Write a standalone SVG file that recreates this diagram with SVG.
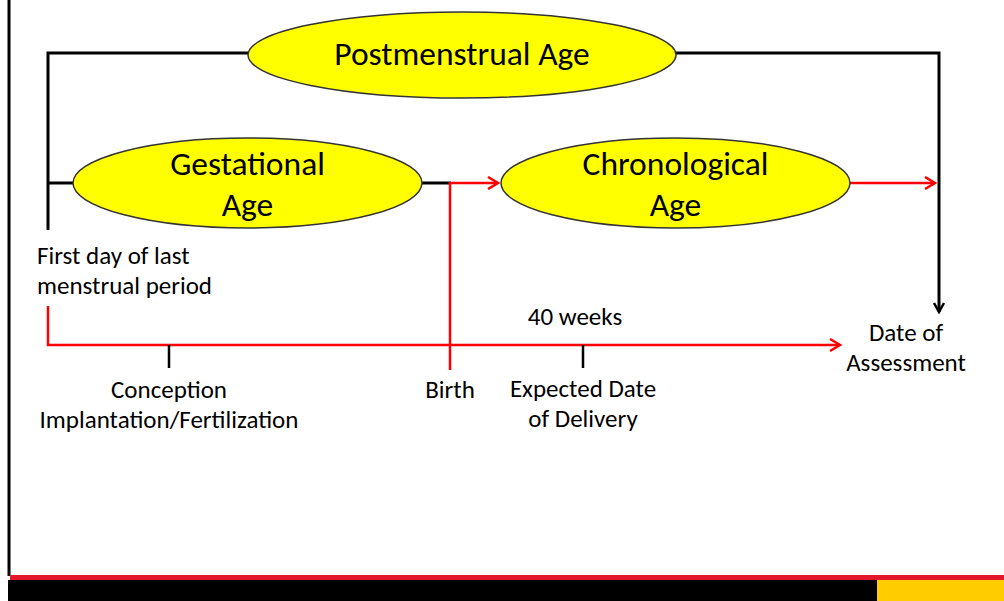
<svg xmlns="http://www.w3.org/2000/svg" width="1004" height="601" viewBox="0 0 1004 601">
<defs>
<marker id="ar" markerWidth="14" markerHeight="14" refX="12" refY="7" orient="auto" markerUnits="userSpaceOnUse"><path d="M2,1 L12,7 L2,13" fill="none" stroke="#ff0000" stroke-width="2.5"/></marker>
<marker id="ab" markerWidth="14" markerHeight="14" refX="12" refY="7" orient="auto" markerUnits="userSpaceOnUse"><path d="M3,2 L12,7 L3,12" fill="none" stroke="#000" stroke-width="2.5"/></marker>
<style>
.el{fill:#ffff00;stroke:#333;stroke-width:1.5}
.big{font-family:Carlito,"Open Sans","Liberation Sans",sans-serif;font-size:33.5px;fill:#000;text-anchor:middle}
.sm{font-family:Carlito,"Open Sans","Liberation Sans",sans-serif;font-size:25px;fill:#000}
.bk{stroke:#000;stroke-width:3;fill:none}
.rd{stroke:#ff0000;stroke-width:2.5;fill:none}
</style>
</defs>
<rect width="1004" height="601" fill="#fff"/>
<line x1="9" y1="0" x2="9" y2="576" stroke="#000" stroke-width="3"/>
<rect x="10" y="575" width="994" height="5" fill="#e3162c"/>
<rect x="8" y="580" width="996" height="21" fill="#000"/>
<rect x="877" y="580" width="127" height="21" fill="#ffcc00"/>
<g id="connectors">
<polyline class="bk" points="248,53 48,53 48,230"/>
<line class="bk" x1="48" y1="183" x2="74" y2="183"/>
<polyline class="bk" points="676,53 939,53 939,312" marker-end="url(#ab)"/>
<line class="bk" x1="422" y1="183" x2="451" y2="183"/>
<line class="rd" x1="450" y1="183" x2="498" y2="183" marker-end="url(#ar)"/>
<line class="rd" x1="450" y1="182" x2="450" y2="370"/>
<line class="rd" x1="850" y1="183" x2="935" y2="183" marker-end="url(#ar)"/>
<polyline class="rd" points="48,306 48,345 840,345" marker-end="url(#ar)"/>
<line stroke="#000" stroke-width="2.5" x1="169" y1="345" x2="169" y2="368"/>
<line stroke="#000" stroke-width="2.5" x1="583" y1="345" x2="583" y2="368"/>
</g>
<g id="postmenstrual"><ellipse class="el" cx="462" cy="55" rx="214" ry="43"/><text class="big" x="462" y="65">Postmenstrual Age</text></g>
<g id="gestational"><ellipse class="el" cx="247.5" cy="183" rx="174.5" ry="45"/><text class="big" x="247.5" y="175">Gestational</text><text class="big" x="247.5" y="216">Age</text></g>
<g id="chronological"><ellipse class="el" cx="675.5" cy="183" rx="174.5" ry="45"/><text class="big" x="675.5" y="175">Chronological</text><text class="big" x="675.5" y="216">Age</text></g>
<g id="lmp"><text class="sm" x="37" y="264">First day of last</text><text class="sm" x="37" y="294">menstrual period</text></g>
<g id="weeks"><text class="sm" x="575" y="325" text-anchor="middle">40 weeks</text></g>
<g id="assessment"><text class="sm" x="906" y="341" text-anchor="middle">Date of</text><text class="sm" x="906" y="371" text-anchor="middle">Assessment</text></g>
<g id="conception"><text class="sm" x="169" y="398" text-anchor="middle">Conception</text><text class="sm" x="169" y="428" text-anchor="middle">Implantation/Fertilization</text></g>
<g id="birth"><text class="sm" x="450" y="398" text-anchor="middle">Birth</text></g>
<g id="edd"><text class="sm" x="583" y="397" text-anchor="middle">Expected Date</text><text class="sm" x="583" y="427" text-anchor="middle">of Delivery</text></g>
</svg>
